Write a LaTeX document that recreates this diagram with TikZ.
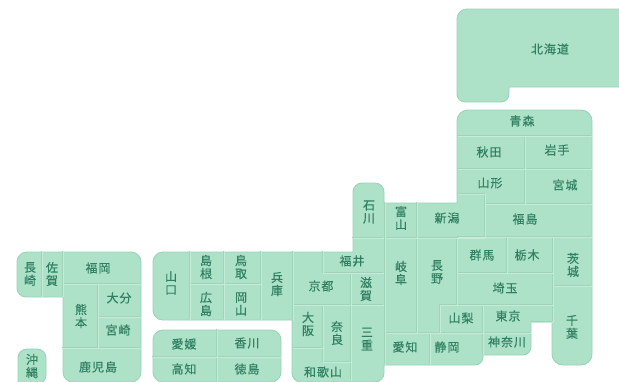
\documentclass[tikz,border=0pt]{standalone}
\usepackage{fontspec}
\setmainfont[FakeBold=0.25,LetterSpace=8]{Noto Sans CJK JP}
\definecolor{landfill}{HTML}{ADE2C8}
\definecolor{landedge}{HTML}{9AD4B9}
\definecolor{divlight}{HTML}{C6EBD8}
\definecolor{divdark}{HTML}{A0D3BA}
\definecolor{labelink}{HTML}{2F7F62}
\tikzset{
  land/.style={fill=landfill,draw=landedge,line width=0.9pt,line join=round},
  divider/.style={draw=divlight,line width=0.7pt,
    preaction={draw=divdark,line width=0.6pt,transform canvas={shift={(-0.8pt,0.8pt)}}}},
  pref/.style={text=labelink,font=\fontsize{12}{13}\selectfont,inner sep=0pt,align=center}
}
\begin{document}
\begin{tikzpicture}[x=1pt,y=-1pt]
\useasboundingbox (0,0) rectangle (619,381);
\fill[white] (0,0) rectangle (619,381);
\begin{scope}
\clip (0,0) rectangle (619,381);
% Hokkaido
\path[land] (457,50) [rounded corners=10pt] -- (457,9) [sharp corners] -- (625,9) -- (625,87) -- (509,87)
  [rounded corners=8pt] -- (509,102) -- (457,102) -- cycle;
% Honshu
\path[land] (153,285) [rounded corners=10pt] -- (153,252) [sharp corners] -- (353,252)
  [rounded corners=9pt] -- (353,183) -- (384,183) [sharp corners] -- (384,203) -- (457,203)
  [rounded corners=11pt] -- (457,110) -- (592,110) -- (592,365) -- (552,365) [sharp corners] -- (552,322) -- (531,322)
  [rounded corners=8pt] -- (531,355) [sharp corners] -- (483,355) [rounded corners=8pt] -- (483,365) [sharp corners] -- (384,365)
  [rounded corners=9pt] -- (384,382) -- (292,382) [sharp corners] -- (292,320) [rounded corners=10pt] -- (153,320) -- cycle;
% Kyushu
\path[land] (17,275) [rounded corners=10pt] -- (17,252) -- (141,252) -- (141,382) -- (63,382) [sharp corners] -- (63,297)
  [rounded corners=9pt] -- (17,297) -- cycle;
% Okinawa
\path[land] (18,370) [rounded corners=9pt] -- (18,349) -- (46,349) -- (46,384) [sharp corners] -- (18,384) -- cycle;
% Shikoku
\path[land] (153,360) [rounded corners=10pt] -- (153,330) -- (281,330) -- (281,382) -- (153,382) -- cycle;
% Dividers
\path[divider]
  (42,252)--(42,297) (63,252)--(63,297) (63,284)--(141,284) (98,284)--(98,348)
  (98,317)--(141,317) (63,348)--(141,348)
  (153,357)--(281,357) (217,330)--(217,382)
  (190,252)--(190,320) (190,284)--(261,284) (224,252)--(224,320) (261,252)--(261,320)
  (293,252)--(293,320) (323,252)--(323,273) (323,273)--(384,273) (353,238)--(384,238)
  (293,305)--(384,305) (351,273)--(351,381) (323,305)--(323,362) (293,348)--(323,348) (323,362)--(351,362)
  (385,203)--(385,365) (385,238)--(485,238) (417,203)--(417,333) (385,333)--(483,333)
  (430,333)--(430,365) (457,238)--(457,305) (440,305)--(553,305) (440,305)--(440,333) (483,305)--(483,355)
  (483,333)--(531,333) (531,322)--(553,322)
  (458,136)--(592,136) (525,136)--(525,204) (458,169)--(592,169) (458,194)--(485,194) (485,194)--(485,237)
  (485,204)--(592,204) (458,237)--(592,237) (507,237)--(507,273) (458,273)--(553,273)
  (553,237)--(553,322) (553,286)--(592,286);
\end{scope}
% Labels
\node[pref] (hokkaido) at (550,49) {北海道};
\node[pref] (aomori) at (522,121) {青森};
\node[pref] (akita) at (489,152) {秋田};
\node[pref] (iwate) at (557,150) {岩手};
\node[pref] (yamagata) at (490,183) {山形};
\node[pref] (miyagi) at (565,185) {宮城};
\node[pref] (fukushima) at (525,219) {福島};
\node[pref] (niigata) at (447,218) {新潟};
\node[pref] (toyama) at (401,218) {富\\山};
\node[pref] (ishikawa) at (369,212) {石\\川};
\node[pref] (gifu) at (401,273) {岐\\阜};
\node[pref] (nagano) at (437,272) {長\\野};
\node[pref] (fukui) at (352,261) {福井};
\node[pref] (kyoto) at (321,286) {京都};
\node[pref] (shiga) at (366,289) {滋\\賀};
\node[pref] (mie) at (367,339) {三\\重};
\node[pref] (aichi) at (405,347) {愛知};
\node[pref] (shizuoka) at (447,347) {静岡};
\node[pref] (yamanashi) at (461,318) {山梨};
\node[pref] (tokyo) at (508,316) {東京};
\node[pref] (kanagawa) at (507,342) {神奈川};
\node[pref] (gunma) at (482,255) {群馬};
\node[pref] (tochigi) at (527,255) {栃木};
\node[pref] (ibaraki) at (573,265) {茨\\城};
\node[pref] (saitama) at (505,288) {埼玉};
\node[pref] (chiba) at (572,327) {千\\葉};
\node[pref] (hyogo) at (277,284) {兵\\庫};
\node[pref] (osaka) at (308,324) {大\\阪};
\node[pref] (nara) at (337,333) {奈\\良};
\node[pref] (wakayama) at (323,372) {和歌山};
\node[pref] (yamaguchi) at (171,283) {山\\口};
\node[pref] (shimane) at (206,267) {島\\根};
\node[pref] (hiroshima) at (206,304) {広\\島};
\node[pref] (tottori) at (241,267) {鳥\\取};
\node[pref] (okayama) at (241,304) {岡\\山};
\node[pref] (fukuoka) at (98,268) {福岡};
\node[pref] (nagasaki) at (30,274) {長\\崎};
\node[pref] (saga) at (52,274) {佐\\賀};
\node[pref] (kumamoto) at (81,316) {熊\\本};
\node[pref] (oita) at (119,298) {大分};
\node[pref] (miyazaki) at (118,330) {宮崎};
\node[pref] (kagoshima) at (98,367) {鹿児島};
\node[pref] (okinawa) at (32,366) {沖\\縄};
\node[pref] (ehime) at (184,344) {愛媛};
\node[pref] (kagawa) at (247,343) {香川};
\node[pref] (kochi) at (184,369) {高知};
\node[pref] (tokushima) at (247,369) {徳島};
\end{tikzpicture}
\end{document}
